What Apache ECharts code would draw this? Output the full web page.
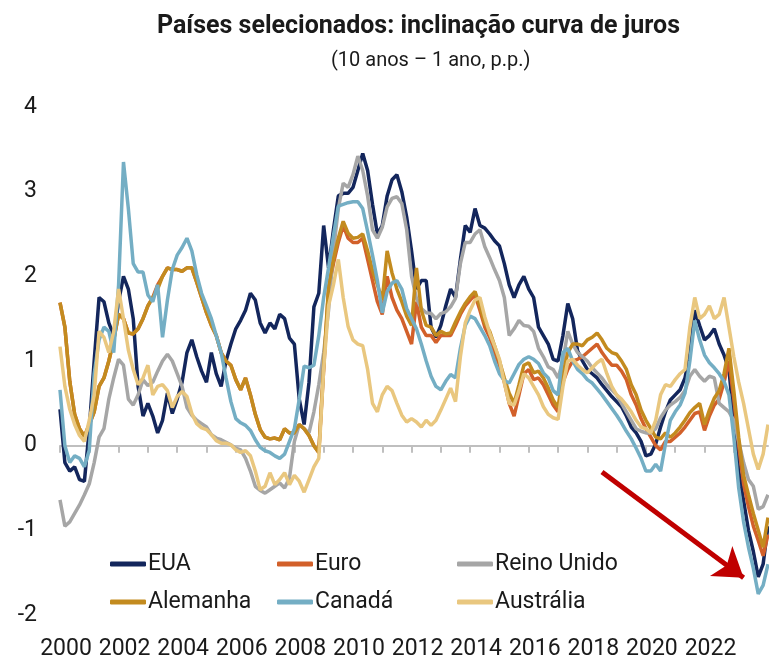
<!DOCTYPE html>
<html lang="pt">
<head>
<meta charset="utf-8">
<title>Inclinação curva de juros</title>
<script src="https://cdn.jsdelivr.net/npm/echarts@6/dist/echarts.min.js"></script>
<style>
  html, body { margin: 0; padding: 0; background: #fff; }
  #chart { width: 769px; height: 671px; }
</style>
</head>
<body>
<div id="chart"></div>
<script>
// Dados bimestrais (jan, mar, mai, jul, set, nov), de 2000 até início de 2024
const firstYear = 2000;
const yearLabels = ['2000', '2002', '2004', '2006', '2008', '2010', '2012', '2014', '2016', '2018', '2020', '2022'];

const eua = [
  0.43, -0.2, -0.3, -0.25, -0.4, -0.42,
  0.2, 1.0, 1.75, 1.7, 1.45, 1.3,
  1.7, 2.0, 1.85, 1.5, 0.7, 0.35,
  0.5, 0.35, 0.15, 0.3, 0.62, 0.38,
  0.55, 0.75, 1.1, 1.25, 1.05, 0.88,
  0.75, 1.1, 0.85, 0.7, 1.0, 1.2,
  1.38, 1.48, 1.6, 1.8, 1.72, 1.45,
  1.33, 1.45, 1.38, 1.55, 1.5, 1.27,
  1.2, 0.55, 0.25, 0.75, 1.64, 1.8,
  2.6, 2.1, 2.55, 2.95, 2.98, 2.98,
  3.05, 3.25, 3.45, 3.25, 2.85, 2.5,
  2.6, 2.95, 3.14, 3.2, 3.0, 2.7,
  2.3, 1.85, 1.95, 1.95, 1.4, 1.28,
  1.42, 1.65, 1.85, 1.75, 2.2, 2.6,
  2.52, 2.8, 2.6, 2.57, 2.5, 2.42,
  2.36, 2.15, 1.9, 1.75, 1.9, 2.0,
  1.85, 1.75, 1.4, 1.3, 1.2, 1.02,
  1.0, 1.3, 1.68, 1.5, 1.12, 1.0,
  0.9, 0.85, 0.8, 0.72, 0.65, 0.58,
  0.52, 0.46, 0.35, 0.22, 0.15, 0.05,
  -0.12, -0.1, 0.02, 0.22, 0.4, 0.54,
  0.6, 0.66, 0.8, 1.08, 1.6, 1.42,
  1.25, 1.3, 1.38, 1.2, 1.07, 0.9,
  0.3, -0.3, -0.65, -1.0, -1.25, -1.55,
  -1.4, -0.95
];

const euro = [
  1.69, 1.4, 0.76, 0.37, 0.2, 0.11,
  0.25, 0.4, 0.7, 0.8, 1.0, 1.25,
  1.55, 1.5, 1.33, 1.32, 1.38, 1.5,
  1.65, 1.75, 1.9, 2.0, 2.1, 2.08,
  2.08, 2.06, 2.1, 2.1, 1.93, 1.75,
  1.57, 1.42, 1.3, 1.1, 1.0, 0.95,
  0.78, 0.66, 0.8, 0.6, 0.37, 0.19,
  0.1, 0.08, 0.09, 0.07, 0.2, 0.15,
  0.15, 0.25, 0.2, 0.12, 0.0, -0.08,
  0.9, 1.85, 2.15, 2.4, 2.6, 2.45,
  2.4, 2.4, 2.45, 2.2, 1.95, 1.7,
  1.55, 2.0, 1.75, 1.6, 1.5, 1.35,
  1.2, 1.7, 1.4, 1.3, 1.3, 1.22,
  1.3, 1.3, 1.3, 1.42, 1.55, 1.65,
  1.72, 1.78, 1.6, 1.4, 1.28, 1.1,
  0.95, 0.75, 0.5, 0.35, 0.6, 0.85,
  0.9, 0.78, 0.8, 0.72, 0.6, 0.48,
  0.4, 0.75, 0.9, 1.0, 1.02, 1.05,
  1.1, 1.15, 1.2, 1.1, 1.02, 0.95,
  0.95, 0.88, 0.78, 0.6, 0.48, 0.32,
  0.2, 0.1, 0.0, -0.05, 0.05, 0.05,
  0.1, 0.15, 0.22, 0.3, 0.38, 0.4,
  0.18, 0.35, 0.48, 0.55, 0.75, 1.0,
  0.55, 0.0, -0.45, -0.72, -0.95, -1.12,
  -1.3, -1.05
];

const reinoUnido = [
  -0.64, -0.95, -0.9, -0.8, -0.7, -0.58,
  -0.45, -0.2, 0.1, 0.2, 0.55, 0.8,
  1.02, 0.95, 0.55, 0.48, 0.6, 0.78,
  0.71, 0.75, 0.88, 1.0, 1.08, 1.0,
  0.85, 0.7, 0.45, 0.36, 0.3, 0.26,
  0.22, 0.13, 0.09, 0.07, 0.04, 0.01,
  -0.03, -0.05, -0.15, -0.3, -0.48, -0.53,
  -0.56, -0.52, -0.48, -0.44, -0.5, -0.38,
  0.05, 0.25, 0.2, 0.15, 0.4, 0.72,
  1.1, 1.6, 2.3, 2.8, 3.1, 3.05,
  3.2, 3.42, 3.25, 2.95, 2.55, 2.45,
  2.58, 2.82, 2.92, 2.94, 2.86, 2.55,
  2.0, 1.74, 1.62, 1.57, 1.56, 1.5,
  1.56, 1.58, 1.64, 1.74, 2.15, 2.4,
  2.4, 2.5, 2.55, 2.35, 2.22, 2.08,
  1.95, 1.75, 1.3, 1.38, 1.48, 1.42,
  1.41, 1.35, 1.15, 1.05, 0.93, 0.9,
  0.8, 1.0, 1.35, 1.2, 1.1, 1.05,
  1.0, 0.92, 0.86, 0.8, 0.72, 0.66,
  0.6, 0.5, 0.4, 0.3, 0.2, 0.17,
  0.15, 0.15, 0.2, 0.33, 0.42, 0.48,
  0.52, 0.57, 0.65, 0.82, 0.9, 0.82,
  0.76, 0.82, 0.8, 0.5, 0.45, 0.4,
  0.3, 0.05, -0.2, -0.4, -0.48, -0.75,
  -0.72, -0.58
];

const alemanha = [
  1.69, 1.4, 0.76, 0.37, 0.2, 0.11,
  0.25, 0.4, 0.7, 0.8, 1.0, 1.25,
  1.55, 1.5, 1.33, 1.32, 1.38, 1.5,
  1.65, 1.75, 1.85, 2.0, 2.1, 2.08,
  2.08, 2.06, 2.1, 2.1, 1.93, 1.75,
  1.57, 1.42, 1.3, 1.1, 1.0, 0.95,
  0.78, 0.66, 0.8, 0.6, 0.37, 0.19,
  0.1, 0.08, 0.09, 0.07, 0.2, 0.15,
  0.15, 0.25, 0.2, 0.12, 0.0, -0.08,
  0.95, 1.88, 2.2, 2.45, 2.65, 2.51,
  2.45, 2.46, 2.5, 2.3, 2.07, 1.9,
  1.72, 2.3, 2.04, 1.85, 1.7, 1.53,
  1.42, 2.1, 1.6, 1.42, 1.4, 1.3,
  1.35, 1.32, 1.33, 1.46, 1.58, 1.68,
  1.76, 1.82, 1.65, 1.45, 1.35, 1.18,
  1.0, 0.8, 0.62, 0.5, 0.72, 0.95,
  0.98, 0.86, 0.88, 0.8, 0.68, 0.54,
  0.45, 0.85, 1.1, 1.2, 1.2, 1.18,
  1.25, 1.28, 1.33, 1.25, 1.15, 1.1,
  1.08, 1.0, 0.9, 0.72, 0.6, 0.42,
  0.3, 0.2, 0.1, 0.08, 0.15, 0.1,
  0.15, 0.22, 0.3, 0.39, 0.45, 0.5,
  0.25, 0.42, 0.56, 0.65, 0.85, 1.15,
  0.65, 0.1, -0.35, -0.58, -0.8, -1.0,
  -1.2, -0.85
];

const canada = [
  0.66, 0.0, -0.2, -0.12, -0.15, -0.25,
  -0.05, 0.85, 1.25, 1.4, 1.35, 1.1,
  1.9, 3.35, 2.8, 2.15, 2.05, 2.05,
  1.78, 1.7, 1.9, 1.28, 1.72, 2.08,
  2.25, 2.34, 2.45, 2.3, 2.02, 1.8,
  1.65, 1.5, 1.3, 1.1, 0.8, 0.52,
  0.32, 0.27, 0.24, 0.18, 0.07, -0.02,
  -0.06, -0.08, -0.12, -0.15, -0.1, 0.05,
  0.2, 0.55, 0.94, 0.92, 0.95, 1.3,
  1.75, 2.1, 2.48, 2.83, 2.85, 2.87,
  2.88, 2.88, 2.8, 2.53, 2.25, 1.95,
  1.57, 1.82, 1.92, 1.95, 1.85, 1.62,
  1.5, 1.38, 1.2, 1.0, 0.82, 0.7,
  0.66, 0.76, 0.84, 0.8, 1.15, 1.42,
  1.53, 1.5, 1.4, 1.3, 1.18, 1.0,
  0.85, 0.77, 0.74, 0.85, 0.96, 1.02,
  1.05, 1.02, 0.97, 0.86, 0.8, 0.65,
  0.6, 1.1, 1.15, 1.0, 0.9, 0.85,
  0.78, 0.74, 0.67, 0.6, 0.52, 0.44,
  0.36, 0.27, 0.17, 0.08, -0.03, -0.15,
  -0.3, -0.3, -0.22, -0.3, 0.02, 0.3,
  0.4, 0.48, 0.62, 1.0, 1.48, 1.25,
  1.07, 0.98, 0.92, 0.85, 0.76, 0.6,
  0.1, -0.5, -0.9, -1.2, -1.45, -1.75,
  -1.65, -1.4
];

const australia = [
  1.17, 0.7, 0.43, 0.25, 0.12, 0.05,
  0.3, 0.6, 1.35, 1.28, 1.1, 1.35,
  1.85, 1.5, 1.13, 0.9, 0.72, 0.8,
  0.95, 0.6, 0.7, 0.72, 0.65, 0.45,
  0.58, 0.64, 0.58, 0.38, 0.26, 0.21,
  0.19, 0.13, 0.06, 0.03, 0.03, 0.01,
  -0.05, -0.08, -0.06, -0.12, -0.3, -0.52,
  -0.48, -0.32, -0.46, -0.4, -0.32, -0.46,
  -0.35, -0.42, -0.55, -0.4, -0.25, -0.15,
  0.9, 1.65, 1.9, 2.2, 1.75, 1.41,
  1.25, 1.2, 1.18, 0.9, 0.5, 0.4,
  0.6, 0.7, 0.65, 0.5, 0.36, 0.28,
  0.32, 0.28, 0.22, 0.3, 0.24, 0.3,
  0.42, 0.55, 0.68, 0.52, 1.05, 1.45,
  1.6, 1.72, 1.75, 1.52, 1.33, 1.18,
  1.02, 0.74, 0.5, 0.48, 0.65, 0.85,
  0.8, 0.7, 0.6, 0.46, 0.37, 0.33,
  0.31, 0.7, 1.0, 1.02, 0.95, 0.9,
  0.86, 0.92, 0.98, 1.02, 0.85, 0.7,
  0.6, 0.55, 0.48, 0.4, 0.3, 0.22,
  0.2, 0.15, 0.3, 0.6, 0.72, 0.7,
  0.78, 0.85, 0.9, 1.4, 1.75, 1.5,
  1.55, 1.65, 1.5, 1.55, 1.75, 1.4,
  1.05, 0.75, 0.5, 0.2, -0.1, -0.28,
  -0.1, 0.25
];

// seta vermelha (anotação), em coordenadas do gráfico
const arrowFrom = ['2018-07', -0.31];
const arrowTo = ['2023-05', -1.56];

const months = [];
for (let i = 0; i < eua.length; i++) {
  const y = firstYear + Math.floor(i / 6);
  const m = (i % 6) * 2 + 1;
  months.push(y + '-' + String(m).padStart(2, '0'));
}

const seriesDefs = [
  { name: 'EUA', data: eua, color: '#13265C' },
  { name: 'Euro', data: euro, color: '#D2602A' },
  { name: 'Reino Unido', data: reinoUnido, color: '#A6A6A6' },
  { name: 'Alemanha', data: alemanha, color: '#C38B1F' },
  { name: 'Canadá', data: canada, color: '#74AEC4' },
  { name: 'Austrália', data: australia, color: '#E9C77F' }
];

const font = 'Roboto, "Noto Sans", sans-serif';
const textColor = '#1a1a1a';

const legendBase = {
  orient: 'vertical',
  top: 547,
  icon: 'roundRect',
  itemWidth: 36,
  itemHeight: 5,
  itemGap: 14,
  selectedMode: false,
  textStyle: { fontFamily: font, fontSize: 23, color: textColor, lineHeight: 24, padding: [0, 0, 0, -3] }
};

const series = seriesDefs.map(function (s) {
  return {
    name: s.name,
    type: 'line',
    data: s.data,
    xAxisIndex: 0,
    showSymbol: false,
    symbol: 'none',
    smooth: false,
    color: s.color,
    lineStyle: { width: 3.5, color: s.color },
    emphasis: { disabled: true }
  };
});

series[series.length - 1].markLine = {
  silent: true,
  animation: false,
  symbol: ['none', 'arrow'],
  symbolSize: 28,
  label: { show: false },
  emphasis: { disabled: true },
  lineStyle: { color: '#C00000', width: 5, type: 'solid' },
  data: [[{ coord: arrowFrom }, { coord: arrowTo }]]
};

const option = {
  animation: false,
  backgroundColor: '#fff',
  textStyle: { fontFamily: font },
  title: [
    {
      text: 'Países selecionados: inclinação curva de juros',
      left: 152,
      top: 9,
      textStyle: { fontFamily: font, fontWeight: 'bold', fontSize: 25, color: textColor }
    },
    {
      text: '(10 anos – 1 ano, p.p.)',
      left: 326,
      top: 46,
      textStyle: { fontFamily: font, fontWeight: 'normal', fontSize: 20, color: textColor }
    }
  ],
  legend: [
    Object.assign({}, legendBase, { left: 105, data: ['EUA', 'Alemanha'] }),
    Object.assign({}, legendBase, { left: 272, data: ['Euro', 'Canadá'] }),
    Object.assign({}, legendBase, { left: 452, data: ['Reino Unido', 'Austrália'] })
  ],
  grid: { left: 60, right: 1, top: 107, bottom: 56 },
  xAxis: [
    {
      type: 'category',
      data: months,
      boundaryGap: false,
      position: 'bottom',
      axisLine: { show: false, onZero: false },
      axisTick: { show: false },
      splitLine: { show: false },
      axisLabel: {
        interval: function (index, value) {
          return value.endsWith('-01') && yearLabels.indexOf(value.slice(0, 4)) !== -1;
        },
        formatter: function (value) { return value.slice(0, 4); },
        fontFamily: font,
        fontSize: 23,
        color: textColor,
        margin: 23,
        padding: [0, 0, 0, 12]
      }
    },
    {
      // linha do zero com marcas anuais
      type: 'category',
      data: months,
      boundaryGap: false,
      position: 'bottom',
      axisLine: { show: true, onZero: true, lineStyle: { color: '#BFBFBF', width: 2 } },
      axisTick: { show: true, interval: 5, length: 7, lineStyle: { color: '#BFBFBF', width: 2 } },
      axisLabel: { show: false },
      splitLine: { show: false }
    }
  ],
  yAxis: {
    type: 'value',
    min: -2,
    max: 4,
    interval: 1,
    splitLine: { show: false },
    axisLine: { show: false },
    axisTick: { show: false },
    axisLabel: { fontFamily: font, fontSize: 23, color: textColor, margin: 23 }
  },
  series: series
};

const chart = echarts.init(document.getElementById('chart'), null, { renderer: 'canvas' });
chart.setOption(option);
</script>
</body>
</html>
